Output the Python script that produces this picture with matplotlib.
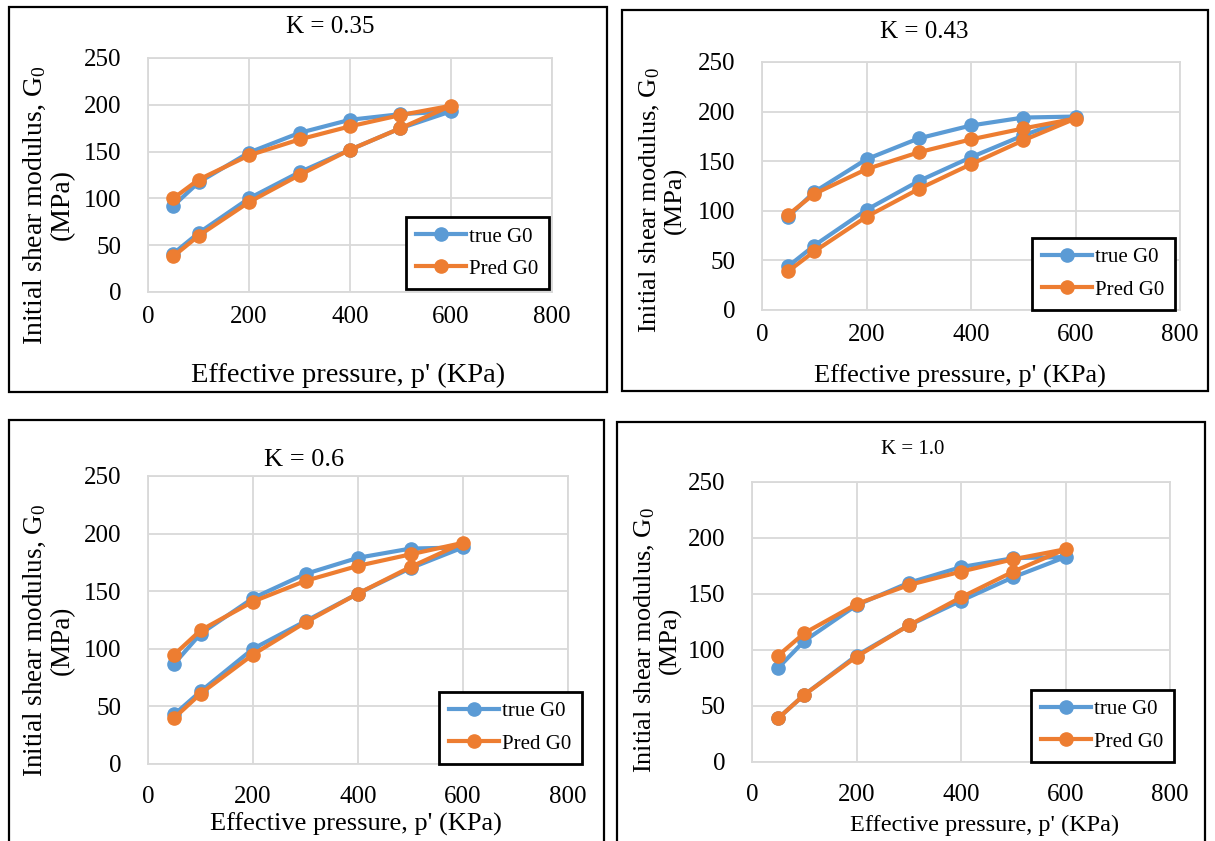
import matplotlib.pyplot as plt
from matplotlib.patches import Rectangle

plt.rcParams['font.family'] = ['Liberation Serif', 'DejaVu Serif']
plt.rcParams['mathtext.fontset'] = 'custom'
plt.rcParams['mathtext.rm'] = 'Liberation Serif'
plt.rcParams['mathtext.it'] = 'Liberation Serif'

# loop: loading branch 50 -> 600, then unloading branch 600 -> 50
p = [50, 100, 200, 300, 400, 500, 600, 500, 400, 300, 200, 100, 50]

true_035 = [41, 63, 100, 128, 152, 175, 193, 190, 184, 170, 149, 117, 92]
pred_035 = [38, 60, 96, 125, 152, 175, 199, 189, 177, 163, 146, 120, 100]

true_043 = [44, 65, 101, 130, 154, 176, 195, 194, 186, 173, 152, 119, 94]
pred_043 = [39, 59, 94, 122, 147, 171, 193, 183, 172, 159, 142, 117, 96]

true_06 = [43, 63, 100, 124, 148, 170, 188, 187, 179, 165, 144, 113, 87]
pred_06 = [40, 61, 95, 123, 148, 171, 192, 182, 172, 159, 141, 116, 95]

true_10 = [39, 60, 95, 122, 144, 165, 183, 182, 174, 160, 140, 108, 84]
pred_10 = [39, 60, 94, 122, 147, 170, 190, 181, 170, 158, 141, 115, 95]

titles = ['K = 0.35', 'K = 0.43', 'K = 0.6', 'K = 1.0']
true_all = [true_035, true_043, true_06, true_10]
pred_all = [pred_035, pred_043, pred_06, pred_10]

W, H = 1215, 841
fig = plt.figure(figsize=(W / 100, H / 100), dpi=100)


def fx(x):
    return x / W


def fy(y):
    return 1 - y / H


# pixel layout of each panel (image coords, y downwards)
panels = [
    dict(box=(9, 7, 607, 392), plot=(148, 552, 58, 292), title=(330, 27, 18), xpad=10,
         ylab=(35, 62, 205, 20), xlab=(348, 375, 20.5), leg=(549, 289)),
    dict(box=(622, 10, 1208, 391), plot=(762, 1180, 62, 310), title=(924, 32, 18), xpad=10,
         ylab=(650, 675, 200, 19), xlab=(960, 376, 19), leg=(1175, 310)),
    dict(box=(9, 420, 604, 845), plot=(148, 568, 476, 764), title=(304, 460, 19), xpad=16,
         ylab=(35, 62, 640, 19.5), xlab=(356, 824, 19), leg=(582, 764)),
    dict(box=(617, 422, 1205, 845), plot=(752, 1170, 482, 762), title=(913, 450, 15), xpad=16,
         ylab=(645, 670, 640, 19), xlab=(985, 825, 17.5), leg=(1174, 762)),
]

blue = '#5B9BD5'
orange = '#ED7D31'

for i, pn in enumerate(panels):
    bx0, by0, bx1, by1 = pn['box']
    fig.patches.append(Rectangle((fx(bx0), fy(by1)), fx(bx1 - bx0), (by1 - by0) / H,
                                 transform=fig.transFigure, fill=False,
                                 edgecolor='black', linewidth=1.6, zorder=0))
    x0, x1, yt, yb = pn['plot']
    ax = fig.add_axes([fx(x0), fy(yb), fx(x1 - x0), (yb - yt) / H])
    l1, = ax.plot(p, true_all[i], color=blue, linewidth=3, marker='o', markersize=9.5, label='true G0')
    l2, = ax.plot(p, pred_all[i], color=orange, linewidth=3, marker='o', markersize=9.5, label='Pred G0')
    ax.set_xlim(0, 800)
    ax.set_ylim(0, 250)
    ax.set_xticks([0, 200, 400, 600, 800])
    ax.set_yticks([0, 50, 100, 150, 200, 250])
    ax.grid(True, color='#D9D9D9', linewidth=1.3)
    ax.set_axisbelow(True)
    for s in ax.spines.values():
        s.set_color('#D9D9D9')
        s.set_linewidth(1.3)
    ax.tick_params(length=0, labelsize=18)
    ax.tick_params(axis='x', pad=pn['xpad'])
    ax.tick_params(axis='y', pad=19)

    tx, ty, ts = pn['title']
    fig.text(fx(tx), fy(ty), titles[i], ha='center', va='center', fontsize=ts)
    yl1, yl2, yly, yls = pn['ylab']
    fig.text(fx(yl1), fy(yly), 'Initial shear modulus, G$_0$', rotation=90,
             ha='center', va='center', fontsize=yls)
    fig.text(fx(yl2), fy(yly), '(MPa)', rotation=90, ha='center', va='center', fontsize=yls)
    xlx, xly, xls = pn['xlab']
    fig.text(fx(xlx), fy(xly), "Effective pressure, p' (KPa)", ha='center', va='center', fontsize=xls)

    lx1, ly1 = pn['leg']
    leg = ax.legend(handles=[l1, l2], loc='lower right',
                    bbox_to_anchor=(fx(lx1), fy(ly1)), bbox_transform=fig.transFigure,
                    fancybox=False, framealpha=1, edgecolor='black', fontsize=15,
                    handlelength=2.4, handletextpad=0.15, labelspacing=0.6,
                    borderpad=0.5, borderaxespad=0)
    leg.get_frame().set_linewidth(2)

fig.savefig('out.png', dpi=100)
